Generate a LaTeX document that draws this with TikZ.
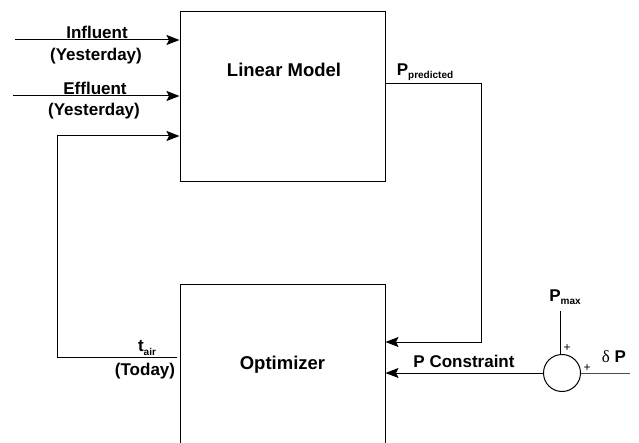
\documentclass[tikz,border=0pt]{standalone}
\usepackage{fontspec}
\setmainfont{Liberation Sans}
\newfontfamily\greekfont{Liberation Serif}
\usetikzlibrary{arrows.meta}
\newcommand{\lowtext}[1]{\raisebox{-0.35ex}{\fontsize{10}{12}\selectfont #1}}
\tikzset{
    arr/.style={-{Stealth[length=13pt,width=10pt,inset=2.5pt]}, line width=1pt},
    lbl/.style={font=\fontsize{17}{20}\selectfont\bfseries, inner sep=0pt, align=center},
    blockbox/.style={draw, line width=1pt, minimum width=205pt, font=\fontsize{18.5}{22}\selectfont\bfseries}
}
\begin{document}
\begin{tikzpicture}[x=1pt, y=-1pt]
    \useasboundingbox (0,0) rectangle (639,443);
    \clip (0,0) rectangle (639,443);
    \fill[white] (0,0) rectangle (639,443);

    \node[blockbox, minimum height=170pt] (model) at (282.5,97) {};
    \node[blockbox, minimum height=160pt] (opt) at (282.5,365) {Optimizer};
    \node[font=\fontsize{18.5}{22}\selectfont\bfseries] (modeltxt) at (284,70) {Linear Model};
    \node[draw, circle, line width=1pt, minimum size=37pt, inner sep=0pt] (sum) at (562,373) {};

    \coordinate (inA) at (15,40);
    \coordinate (inB) at (13,96);
    \coordinate (inC) at (57,136);
    \coordinate (tair) at (177,357);
    \coordinate (pc) at (481,342);
    \coordinate (pmax) at (560,311);
    \coordinate (dp) at (630,373);

    \draw[arr] (inA) -- (model.west |- inA);
    \draw[arr] (inB) -- (model.west |- inB);
    \draw[arr] (tair) -| (inC) -- (model.west |- inC);
    \draw[arr, line width=0.8pt] (model.east |- 0,83) -| (pc) -- (opt.east |- pc);
    \draw[arr] (sum.west) -- (opt.east |- sum.west);
    \draw[line width=1pt] (pmax) -- (pmax |- sum.north);
    \draw[line width=0.8pt, black!70] (sum.east) -- (dp);

    \node[lbl] (inflbl) at (97,32) {Influent};
    \node[lbl] (inflbl2) at (96,56) {(Yesterday)};
    \node[lbl] (efflbl) at (95,88) {Effluent};
    \node[lbl] (efflbl2) at (94,111) {(Yesterday)};
    \node[lbl] (tairlbl) at (147,348) {t\lowtext{air}};
    \node[lbl] (todaylbl) at (145,371) {(Today)};
    \node[lbl] (predlbl) at (425,72) {P\lowtext{predicted}};
    \node[lbl] (conlbl) at (464,361) {P Constraint};
    \node[lbl] (pmaxlbl) at (565,297) {P\lowtext{max}};
    \node[lbl] (dplbl) at (614,357) {{\greekfont\mdseries δ} P};
    \node[font=\fontsize{12}{12}\selectfont] (plusA) at (567,348) {+};
    \node[font=\fontsize{12}{12}\selectfont] (plusB) at (587,368) {+};
\end{tikzpicture}
\end{document}
